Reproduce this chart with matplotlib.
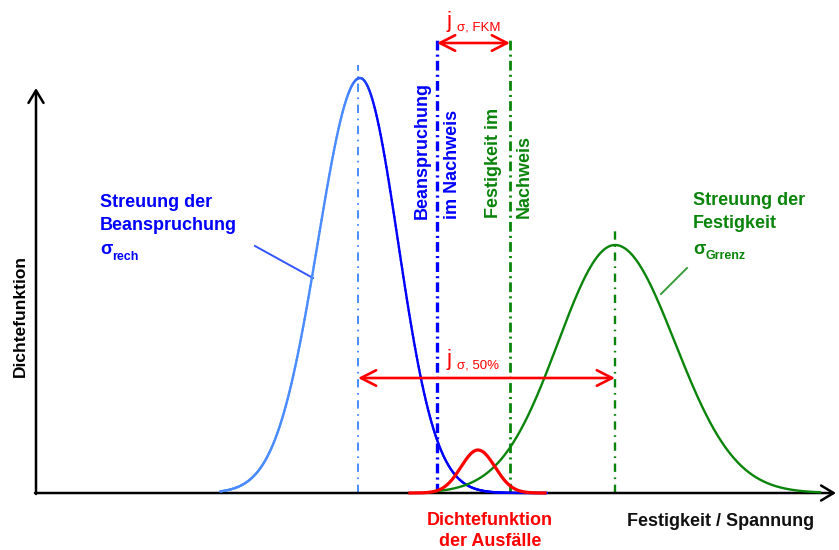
import numpy as np
import matplotlib
matplotlib.use("Agg")
import matplotlib.pyplot as plt
from matplotlib.collections import LineCollection
from matplotlib.colors import LinearSegmentedColormap

plt.rcParams['font.family'] = ['Liberation Sans', 'DejaVu Sans']
plt.rcParams['lines.scale_dashes'] = False

# Density curves: mean, spread left/right of the mean, peak height and drawn range
load_mean, load_sd, load_peak, load_range = 3.24, (0.42, 0.38), 4.15, (1.84, 5.11)
strength_mean, strength_sd, strength_peak, strength_range = 5.79, (0.57, 0.60), 2.48, (4.01, 7.84)
failure_mean, failure_sd, failure_peak, failure_range = 4.42, (0.17, 0.17), 0.43, (3.74, 5.09)

# Characteristic stress levels and heights of their marker lines
load_median, load_median_top = 3.22, 4.28
load_design, load_design_top = 4.01, 4.53
strength_design, strength_design_top = 4.74, 4.53
strength_median, strength_median_top = 5.79, 2.65

# Heights of the safety-margin arrows
fkm_arrow_y = 4.50
median_arrow_y = 1.15

BLUE = '#0000ff'
LIGHT_BLUE = '#4a8cff'
GREEN = '#0a840a'
RED = '#ff0000'


def density(mean, sd, peak, rng, n=500):
    x = np.linspace(rng[0], rng[1], n)
    s = np.where(x < mean, sd[0], sd[1])
    return x, peak * np.exp(-0.5 * ((x - mean) / s) ** 2)


fig = plt.figure(figsize=(8.39, 5.5), dpi=100)
ax = fig.add_axes([0, 0, 1, 1])
ax.set_xlim(-0.36, 8.03)
ax.set_ylim(-0.57, 4.93)
ax.axis('off')

# Coordinate axes with open arrow heads
axis_kw = dict(arrowstyle='->,head_length=0.5,head_width=0.3', lw=1.8, color='black',
               shrinkA=0, shrinkB=0, mutation_scale=18)
ax.annotate('', xy=(8.0, 0), xytext=(-0.01, 0), arrowprops=axis_kw)
ax.annotate('', xy=(0, 4.05), xytext=(0, -0.01), arrowprops=axis_kw)

# Load distribution, shaded from light to dark blue
xl, yl = density(load_mean, load_sd, load_peak, load_range)
pts = np.column_stack([xl, yl]).reshape(-1, 1, 2)
segs = np.concatenate([pts[:-1], pts[1:]], axis=1)
cmap = LinearSegmentedColormap.from_list('load', [LIGHT_BLUE, '#2a5cff', BLUE])
t = np.clip((xl[:-1] - 3.10) / (3.40 - 3.10), 0, 1)
lc = LineCollection(segs, colors=cmap(t), linewidths=1.7, capstyle='round', zorder=3)
ax.add_collection(lc)

# Strength distribution
xs, ys = density(strength_mean, strength_sd, strength_peak, strength_range)
ax.plot(xs, ys, color=GREEN, lw=1.7, zorder=3)

# Failure density
xf, yf = density(failure_mean, failure_sd, failure_peak, failure_range)
ax.plot(xf, yf, color=RED, lw=2.3, zorder=4)

# Dash-dot marker lines
ax.plot([load_median, load_median], [0, load_median_top], color=LIGHT_BLUE, lw=1.4,
        dashes=(6, 4, 1.2, 4), zorder=2)
ax.plot([load_design, load_design], [0, load_design_top], color=BLUE, lw=2.4,
        dashes=(7, 3, 1.5, 3), zorder=2)
ax.plot([strength_design, strength_design], [0, strength_design_top], color=GREEN, lw=2.0,
        dashes=(7, 3, 1.5, 3), zorder=2)
ax.plot([strength_median, strength_median], [0, strength_median_top], color=GREEN, lw=1.7,
        dashes=(6, 4, 1.2, 4), zorder=2)

# Safety-margin arrows
arrow_kw = dict(arrowstyle='<->,head_length=0.55,head_width=0.28', lw=1.9, color=RED,
                shrinkA=0, shrinkB=0, mutation_scale=20)
ax.annotate('', xy=(strength_design, fkm_arrow_y), xytext=(load_design, fkm_arrow_y),
            arrowprops=arrow_kw, zorder=5)
ax.annotate('', xy=(strength_median, median_arrow_y), xytext=(load_median, median_arrow_y),
            arrowprops=arrow_kw, zorder=5)

ax.text(4.10, 4.72, 'j', color=RED, fontsize=16, ha='left', va='center')
ax.text(4.21, 4.66, 'σ, FKM', color=RED, fontsize=9.5, ha='left', va='center')
ax.text(4.10, 1.34, 'j', color=RED, fontsize=16, ha='left', va='center')
ax.text(4.21, 1.27, 'σ, 50%', color=RED, fontsize=9.5, ha='left', va='center')

# Labels
bold = dict(fontweight='bold')
ax.text(0.64, 2.99, 'Streuung der\nBeanspruchung', color=BLUE, fontsize=13, ha='left',
        va='top', linespacing=1.45, **bold)
ax.text(0.64, 2.44, 'σ', color=BLUE, fontsize=13, ha='left', va='center', **bold)
ax.text(0.76, 2.36, 'rech', color=BLUE, fontsize=9, ha='left', va='center', **bold)
ax.plot([2.19, 2.77], [2.47, 2.15], color='#3355ff', lw=1.4)

ax.text(6.57, 3.01, 'Streuung der\nFestigkeit', color=GREEN, fontsize=13, ha='left',
        va='top', linespacing=1.45, **bold)
ax.text(6.57, 2.44, 'σ', color=GREEN, fontsize=13, ha='left', va='center', **bold)
ax.text(6.69, 2.37, 'Grrenz', color=GREEN, fontsize=9, ha='left', va='center', **bold)
ax.plot([6.51, 6.25], [2.25, 1.99], color='#3a9a3a', lw=1.4)

ax.text(4.015, 2.74, 'Beanspruchung\nim Nachweis', color=BLUE, fontsize=13, rotation=90,
        ha='center', va='bottom', multialignment='left', linespacing=2.0, **bold)
ax.text(4.73, 2.75, 'Festigkeit im\nNachweis', color=GREEN, fontsize=13, rotation=90,
        ha='center', va='bottom', multialignment='left', linespacing=2.1, **bold)

ax.text(-0.16, 1.77, 'Dichtefunktion', color='black', fontsize=12.5, rotation=90,
        ha='center', va='center', **bold)
ax.text(6.85, -0.29, 'Festigkeit / Spannung', color='#111111', fontsize=13,
        ha='center', va='center', **bold)
ax.text(4.54, -0.38, 'Dichtefunktion\nder Ausfälle', color=RED, fontsize=13,
        ha='center', va='center', linespacing=1.35, **bold)

fig.savefig('out.png', dpi=100)
